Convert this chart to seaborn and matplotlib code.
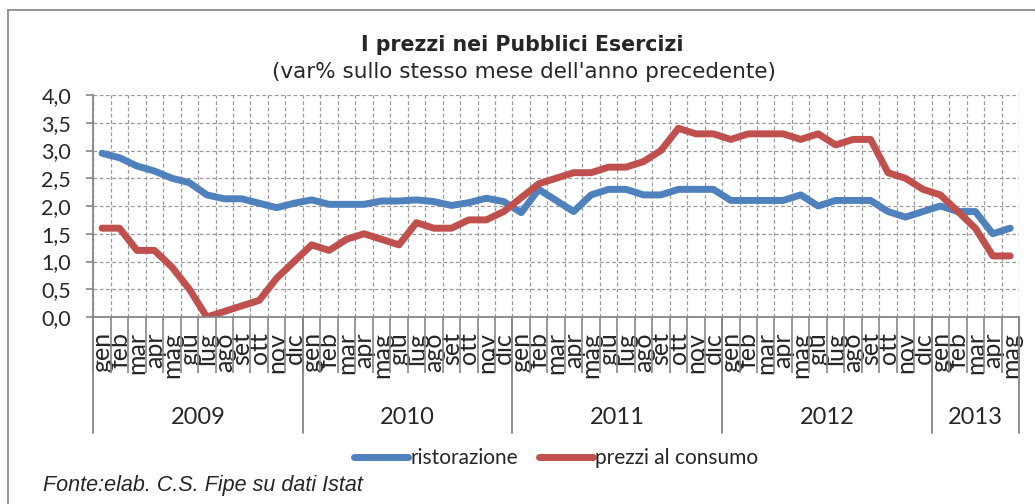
import numpy as np
import pandas as pd
import matplotlib
matplotlib.use("Agg")
import matplotlib.pyplot as plt
from matplotlib.lines import Line2D
import seaborn as sns

# ---- data ----
month_names = ['gen', 'feb', 'mar', 'apr', 'mag', 'giu', 'lug', 'ago', 'set', 'ott', 'nov', 'dic']
months = month_names * 4 + month_names[:5]
years = ['2009', '2010', '2011', '2012', '2013']
months_per_year = [12, 12, 12, 12, 5]

ristorazione = [2.95, 2.87, 2.72, 2.63, 2.50, 2.42, 2.20, 2.13, 2.13, 2.05, 1.97, 2.05,
                2.11, 2.03, 2.03, 2.03, 2.09, 2.09, 2.11, 2.08, 2.01, 2.06, 2.14, 2.08,
                1.88, 2.30, 2.10, 1.90, 2.20, 2.30, 2.30, 2.20, 2.20, 2.30, 2.30, 2.30,
                2.10, 2.10, 2.10, 2.10, 2.20, 2.00, 2.10, 2.10, 2.10, 1.90, 1.80, 1.90,
                2.00, 1.90, 1.90, 1.50, 1.60]
prezzi_consumo = [1.6, 1.6, 1.2, 1.2, 0.9, 0.5, 0.0, 0.1, 0.2, 0.3, 0.7, 1.0,
                  1.3, 1.2, 1.4, 1.5, 1.4, 1.3, 1.7, 1.6, 1.6, 1.75, 1.75, 1.9,
                  2.15, 2.4, 2.5, 2.6, 2.6, 2.7, 2.7, 2.8, 3.0, 3.4, 3.3, 3.3,
                  3.2, 3.3, 3.3, 3.3, 3.2, 3.3, 3.1, 3.2, 3.2, 2.6, 2.5, 2.3,
                  2.2, 1.9, 1.6, 1.1, 1.1]
series_names = ['ristorazione', 'prezzi al consumo']
y_ticks = [0.0, 0.5, 1.0, 1.5, 2.0, 2.5, 3.0, 3.5, 4.0]

title = 'I prezzi nei Pubblici Esercizi'
subtitle = "(var% sullo stesso mese dell'anno precedente)"
source = 'Fonte:elab. C.S. Fipe su dati Istat'

n = len(months)
df = pd.DataFrame({
    'pos': list(range(n)) * 2,
    'valore': ristorazione + prezzi_consumo,
    'serie': [series_names[0]] * n + [series_names[1]] * n,
})

# ---- style ----
sns.set_style('white')
plt.rcParams['font.family'] = ['Lato', 'DejaVu Sans']
colors = {'ristorazione': '#4F81BD', 'prezzi al consumo': '#C0504D'}
axis_gray = '#868686'
grid_gray = '#9a9a9a'

W, H = 1035, 504
fig = plt.figure(figsize=(W / 100, H / 100), dpi=100)
x0, x1, ytop, ybot = 93.3, 1019, 95, 317
ax = fig.add_axes([x0 / W, 1 - ybot / H, (x1 - x0) / W, (ybot - ytop) / H])

sns.lineplot(data=df, x='pos', y='valore', hue='serie', palette=colors,
             hue_order=series_names, lw=5, ax=ax, legend=False,
             solid_capstyle='round', solid_joinstyle='round')

ax.set_xlim(-0.5, n - 0.5)
ax.set_ylim(0, 4)
ax.set_xlabel('')
ax.set_ylabel('')

# y axis
ax.set_yticks(y_ticks)
ax.set_yticklabels([f'{v:.1f}'.replace('.', ',') for v in y_ticks], fontsize=15.5)
ax.tick_params(axis='y', which='major', direction='out', length=5, width=1.2,
               color=axis_gray, pad=11, left=True)

# x axis: month labels at centers, boundaries as minor ticks
ax.set_xticks(range(n))
ax.set_xticklabels(months, rotation=90, fontsize=18)
ax.set_xticks(np.arange(-0.5, n, 1.0), minor=True)
ax.tick_params(axis='x', which='major', length=0, pad=11)
ax.tick_params(axis='x', which='minor', direction='out', length=40, width=1.2,
               color=axis_gray, bottom=True)

ax.grid(False)
ax.xaxis.grid(True, which='minor', color=grid_gray, lw=0.9, ls=(0, (3, 2)))
ax.yaxis.grid(True, which='major', color=grid_gray, lw=0.9, ls=(0, (3, 2)))
ax.set_axisbelow(True)

for s in ['top', 'right']:
    ax.spines[s].set_visible(False)
for s in ['left', 'bottom']:
    ax.spines[s].set_color(axis_gray)
    ax.spines[s].set_linewidth(1.3)

# year separators and labels
xt = ax.get_xaxis_transform()
bounds = np.concatenate([[0], np.cumsum(months_per_year)]) - 0.5
sep_len = (433 - ybot) / (ybot - ytop)
for b in bounds:
    ax.plot([b, b], [0, -sep_len], transform=xt, color=axis_gray, lw=1.3, clip_on=False)
lab_y = -(417 - ybot) / (ybot - ytop)
for yr, a, b in zip(years, bounds[:-1], bounds[1:]):
    ax.text((a + b) / 2, lab_y, yr, transform=xt, ha='center', va='center', fontsize=17)

# titles
fig.text(522 / W, 1 - 45 / H, title, ha='center', va='center', fontsize=14.8,
         fontweight='bold', family='DejaVu Sans')
fig.text(524 / W, 1 - 72 / H, subtitle, ha='center', va='center', fontsize=15.5,
         family='DejaVu Sans')

# legend
handles = [Line2D([], [], color=colors[s], lw=5, solid_capstyle='round') for s in series_names]
fig.legend(handles, series_names, loc='center', bbox_to_anchor=(556 / W, 1 - 458 / H),
           ncol=2, frameon=False, fontsize=15, handlelength=2.6, handletextpad=0.1,
           columnspacing=1.0)

# source
fig.text(43 / W, 1 - 486 / H, source, ha='left', va='center', fontsize=15.5,
         style='italic', family=['Liberation Sans Narrow', 'Liberation Sans'])

# outer frame
fig.add_artist(Line2D([8 / W, 8 / W], [0, 1 - 10 / H], transform=fig.transFigure,
                      color='#8c8c8c', lw=1.3))
fig.add_artist(Line2D([8 / W, 1], [1 - 10 / H, 1 - 10 / H], transform=fig.transFigure,
                      color='#8c8c8c', lw=1.3))

fig.savefig('out.png', dpi=100)
